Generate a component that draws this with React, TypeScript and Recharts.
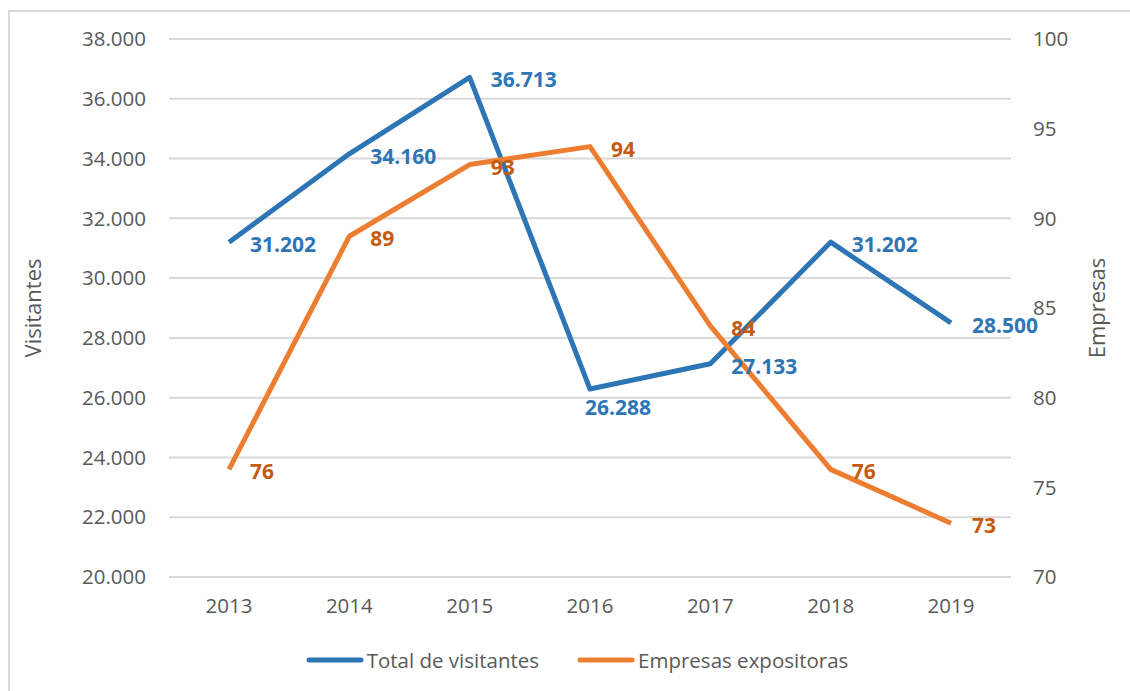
import React from "react";
import { LineChart, Line, CartesianGrid, XAxis, YAxis, Legend, LabelList } from "recharts";

const years = ["2013", "2014", "2015", "2016", "2017", "2018", "2019"];
const visitantes = [31202, 34160, 36713, 26288, 27133, 31202, 28500];
const empresas = [76, 89, 93, 94, 84, 76, 73];
const leftTicks = [20000, 22000, 24000, 26000, 28000, 30000, 32000, 34000, 36000, 38000];
const rightTicks = [70, 75, 80, 85, 90, 95, 100];
const seriesNames = ["Total de visitantes", "Empresas expositoras"];

const BLUE = "#2E75B6";
const ORANGE = "#ED7D31";
const ORANGE_LABEL = "#C55A11";
const GRAY = "#595959";
const FONT = "'Open Sans', 'Noto Sans', sans-serif";

const data = years.map((year, i) => ({ year, visitantes: visitantes[i], empresas: empresas[i] }));

const fmt = (v: number) => String(v).replace(/\B(?=(\d{3})+(?!\d))/g, ".");

const makeLabel = (color: string, isBlue: boolean) => (props: any) => {
  const { x, y, value, index } = props;
  // the 2016 visitor label sits under the point, the rest to the right
  const below = isBlue && index === 3;
  return (
    <text
      x={below ? x - 5 : x + 21}
      y={below ? y + 18 : y + 2}
      fill={color}
      fontSize={21}
      fontWeight={700}
      fontFamily={FONT}
      dominantBaseline="central"
    >
      {isBlue ? fmt(value) : value}
    </text>
  );
};

const renderLegend = (props: any) => {
  const items = [...(props.payload || [])].sort(
    (a: any, b: any) => seriesNames.indexOf(a.value) - seriesNames.indexOf(b.value)
  );
  return (
    <div style={{ height: 78, display: "flex", justifyContent: "center", alignItems: "center", paddingTop: 16, paddingLeft: 24, boxSizing: "border-box" }}>
      {items.map((it: any) => (
        <div key={it.value} style={{ display: "flex", alignItems: "center", margin: "0 19px" }}>
          <svg width={58} height={10}>
            <line x1={3} y1={5} x2={55} y2={5} stroke={it.color} strokeWidth={5} strokeLinecap="round" />
          </svg>
          <span style={{ fontFamily: FONT, fontSize: 20.5, color: GRAY, marginLeft: 3 }}>{it.value}</span>
        </div>
      ))}
    </div>
  );
};

export default function App() {
  return (
    <div style={{ position: "absolute", left: 0, top: 0, width: 1130, height: 691, background: "#fff" }}>
      <style>{"body{margin:0}"}</style>
      <div style={{ position: "absolute", left: 8, top: 10, width: 1130, height: 691, borderLeft: "2px solid #d9d9d9", borderTop: "2px solid #d9d9d9" }} />
      <LineChart width={1130} height={691} data={data} margin={{ top: 39, right: 0, left: 0, bottom: 0 }} style={{ position: "absolute", left: 0, top: 0 }}>
        <CartesianGrid yAxisId="left" vertical={false} stroke="#d9d9d9" strokeWidth={2} />
        <XAxis
          dataKey="year"
          axisLine={false}
          tickLine={false}
          tickSize={0}
          tickMargin={21}
          height={36}
          padding={{ left: 60, right: 60 }}
          tick={{ fill: GRAY, fontSize: 20.5, fontFamily: FONT }}
        />
        <YAxis
          yAxisId="left"
          orientation="left"
          width={169}
          domain={[20000, 38000]}
          ticks={leftTicks}
          tickFormatter={fmt}
          axisLine={false}
          tickLine={false}
          tickSize={0}
          tickMargin={23}
          tick={{ fill: GRAY, fontSize: 20.5, fontFamily: FONT }}
          label={{ value: "Visitantes", angle: -90, position: "insideLeft", offset: 33, style: { textAnchor: "middle", fill: GRAY, fontSize: 22, fontFamily: FONT } }}
        />
        <YAxis
          yAxisId="right"
          orientation="right"
          width={119}
          domain={[70, 100]}
          ticks={rightTicks}
          axisLine={false}
          tickLine={false}
          tickSize={0}
          tickMargin={22}
          tick={{ fill: GRAY, fontSize: 20.5, fontFamily: FONT }}
          label={{ value: "Empresas", angle: -90, position: "insideRight", offset: 33, style: { textAnchor: "middle", fill: GRAY, fontSize: 22, fontFamily: FONT } }}
        />
        <Legend verticalAlign="bottom" content={renderLegend} />
        <Line
          yAxisId="left"
          dataKey="visitantes"
          name={seriesNames[0]}
          stroke={BLUE}
          strokeWidth={5}
          strokeLinejoin="round"
          dot={false}
          activeDot={false}
          isAnimationActive={false}
        >
          <LabelList dataKey="visitantes" content={makeLabel(BLUE, true)} />
        </Line>
        <Line
          yAxisId="right"
          dataKey="empresas"
          name={seriesNames[1]}
          stroke={ORANGE}
          strokeWidth={5}
          strokeLinejoin="round"
          dot={false}
          activeDot={false}
          isAnimationActive={false}
        >
          <LabelList dataKey="empresas" content={makeLabel(ORANGE_LABEL, false)} />
        </Line>
      </LineChart>
    </div>
  );
}
